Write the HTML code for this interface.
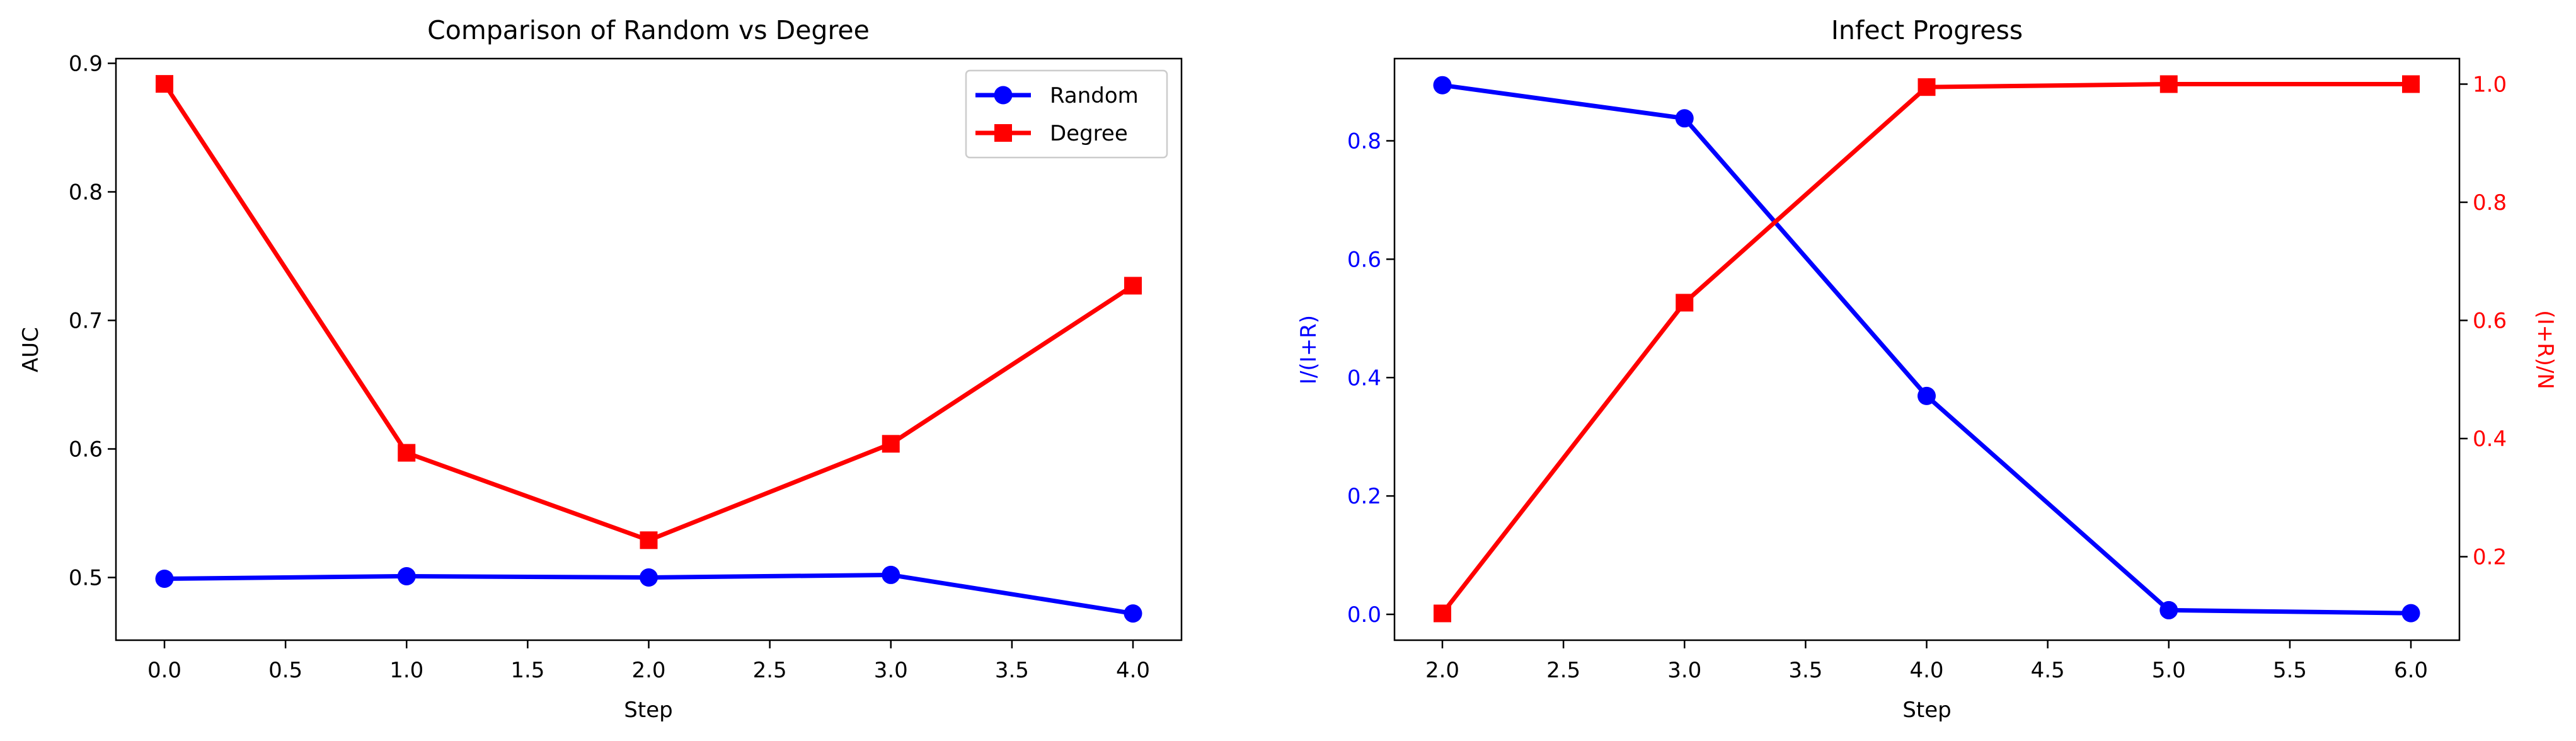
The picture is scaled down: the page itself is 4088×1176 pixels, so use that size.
<!DOCTYPE html>
<html><head><meta charset="utf-8"><style>
body{margin:0;background:#fff}
svg{display:block;font-family:"DejaVu Sans","Liberation Sans",sans-serif}
</style></head><body>
<svg id="fig" width="4088" height="1176" viewBox="0 0 4088 1176"></svg>
<script>
const stepsL=[0,1,2,3,4];
const randomAUC=[0.499,0.501,0.500,0.502,0.472];
const degreeAUC=[0.884,0.597,0.529,0.604,0.727];
const xTicksL=[0,0.5,1,1.5,2,2.5,3,3.5,4];
const yTicksL=[0.5,0.6,0.7,0.8,0.9];
const stepsR=[2,3,4,5,6];
const infectRatio=[0.894,0.838,0.369,0.007,0.002];
const reachRatio=[0.104,0.63,0.995,1.0,1.0];
const xTicksR=[2,2.5,3,3.5,4,4.5,5,5.5,6];
const yTicksRL=[0,0.2,0.4,0.6,0.8];
const yTicksRR=[0.2,0.4,0.6,0.8,1.0];

const svg=document.getElementById('fig');
const NS='http://www.w3.org/2000/svg';
function mk(t,a,txt){const e=document.createElementNS(NS,t);for(const k in a)e.setAttribute(k,a[k]);if(txt!==undefined)e.textContent=txt;svg.appendChild(e);return e;}
function lin(d0,d1,r0,r1){return v=>r0+(v-d0)*(r1-r0)/(d1-d0);}

// Left axes
const xL=lin(0,4,261,1798), yL=lin(0.5,0.9,916.5,100.5);
const fr1=mk('rect',{x:184,y:93,width:1691,height:923,fill:'none',stroke:'#000','stroke-width':2.5});

xTicksL.forEach(v=>{const x=xL(v);
 const l=mk('line',{x1:x,y1:1016,x2:x,y2:1029,stroke:'#000','stroke-width':2.5});
 const t=mk('text',{x:x,y:1075,'font-size':34,'text-anchor':'middle'},v.toFixed(1));});
yTicksL.forEach(v=>{const y=yL(v);
 const l=mk('line',{x1:171,y1:y,x2:184,y2:y,stroke:'#000','stroke-width':2.5});
 const t=mk('text',{x:163,y:y+12,'font-size':34,'text-anchor':'end'},v.toFixed(1));});
let e;
e=mk('text',{x:1029,y:62,'font-size':41,'text-anchor':'middle'},'Comparison of Random vs Degree');
e=mk('text',{x:1029,y:1138,'font-size':34,'text-anchor':'middle'},'Step');
e=mk('text',{x:60,y:555,'font-size':34,'text-anchor':'middle',transform:'rotate(-90 60 555)'},'AUC');

function series(xs,ys,fx,fy,color,marker,name){
 const pts=xs.map((x,i)=>fx(x)+','+fy(ys[i])).join(' ');
 const p=mk('polyline',{points:pts,fill:'none',stroke:color,'stroke-width':7,'stroke-linejoin':'round'});
 
 xs.forEach((x,i)=>{const cx=fx(x),cy=fy(ys[i]);let m;
  if(marker==='o')m=mk('circle',{cx:cx,cy:cy,r:14.5,fill:color});
  else m=mk('rect',{x:cx-14,y:cy-14,width:28,height:28,fill:color});
  });
}
series(stepsL,randomAUC,xL,yL,'#0000ff','o','random');
series(stepsL,degreeAUC,xL,yL,'#ff0000','s','degree');

// legend
e=mk('rect',{x:1533,y:112,width:319,height:138,rx:6,fill:'#fff',stroke:'#ccc','stroke-width':2.5});
e=mk('line',{x1:1548,y1:151,x2:1636,y2:151,stroke:'#0000ff','stroke-width':7});
e=mk('circle',{cx:1592,cy:151,r:14.5,fill:'#0000ff'});
e=mk('text',{x:1666,y:163,'font-size':34},'Random');
e=mk('line',{x1:1548,y1:211,x2:1636,y2:211,stroke:'#ff0000','stroke-width':7});
e=mk('rect',{x:1578,y:197,width:28,height:28,fill:'#ff0000'});
e=mk('text',{x:1666,y:223,'font-size':34},'Degree');

// Right axes
const xR=lin(2,6,2289,3826), yRL=lin(0,0.8,975,223.5), yRR=lin(0.2,1.0,883.5,133.5);
e=mk('rect',{x:2213,y:93,width:1690,height:923,fill:'none',stroke:'#000','stroke-width':2.5});
xTicksR.forEach(v=>{const x=xR(v);
 const l=mk('line',{x1:x,y1:1016,x2:x,y2:1029,stroke:'#000','stroke-width':2.5});
 const t=mk('text',{x:x,y:1075,'font-size':34,'text-anchor':'middle'},v.toFixed(1));});
yTicksRL.forEach(v=>{const y=yRL(v);
 const l=mk('line',{x1:2200,y1:y,x2:2213,y2:y,stroke:'#000','stroke-width':2.5});
 const t=mk('text',{x:2192,y:y+12,'font-size':34,'text-anchor':'end',fill:'#0000ff'},v.toFixed(1));});
yTicksRR.forEach(v=>{const y=yRR(v);
 const l=mk('line',{x1:3903,y1:y,x2:3916,y2:y,stroke:'#000','stroke-width':2.5});
 const t=mk('text',{x:3924,y:y+12,'font-size':34,fill:'#ff0000'},v.toFixed(1));});
e=mk('text',{x:3058,y:62,'font-size':41,'text-anchor':'middle'},'Infect Progress');
e=mk('text',{x:3058,y:1138,'font-size':34,'text-anchor':'middle'},'Step');
e=mk('text',{x:2088,y:555,'font-size':34,'text-anchor':'middle',fill:'#0000ff',transform:'rotate(-90 2088 555)'},'I/(I+R)');
e=mk('text',{x:4028,y:555,'font-size':34,'text-anchor':'middle',fill:'#ff0000',transform:'rotate(90 4028 555)'},'(I+R)/N');
series(stepsR,infectRatio,xR,yRL,'#0000ff','o','infect-ratio');
series(stepsR,reachRatio,xR,yRR,'#ff0000','s','reach-ratio');
</script>
</body></html>
